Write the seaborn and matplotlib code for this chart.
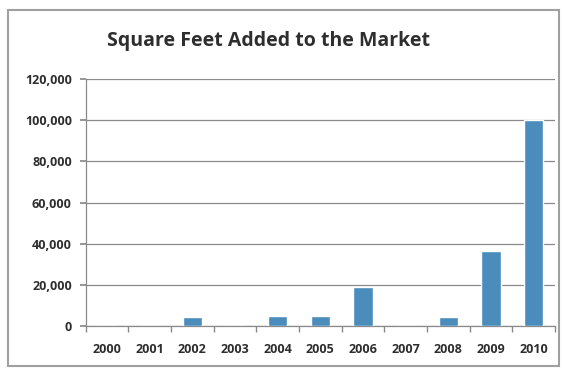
import matplotlib
matplotlib.use("Agg")
import matplotlib.pyplot as plt
import seaborn as sns
import pandas as pd
from matplotlib.ticker import FuncFormatter, FixedLocator
from matplotlib.patches import Rectangle

years = ["2000", "2001", "2002", "2003", "2004", "2005", "2006", "2007", "2008", "2009", "2010"]
square_feet = [0, 0, 4400, 0, 4900, 4900, 19000, 0, 4500, 36400, 100000]
title = "Square Feet Added to the Market"

sns.set_theme(style="white")
plt.rcParams['font.family'] = ['Open Sans', 'DejaVu Sans']

df = pd.DataFrame({"year": years, "sqft": square_feet})

fig = plt.figure(figsize=(5.64, 3.70), dpi=100)
ax = fig.add_axes([0.152, 0.119, 0.832, 0.667])

sns.barplot(data=df, x="year", y="sqft", color="#4a8dbd", saturation=1, width=0.45, ax=ax, zorder=3)

ax.set_ylim(0, 120000)
ax.set_yticks(range(0, 120001, 20000))
ax.yaxis.set_major_formatter(FuncFormatter(lambda v, p: f"{int(v):,}"))
ax.grid(axis="y", color="#8a8a8a", linewidth=0.9, zorder=0)
ax.set_xlabel("")
ax.set_ylabel("")
ax.set_xlim(-0.5, 10.5)

for s in ["top", "right"]:
    ax.spines[s].set_visible(False)
ax.spines["left"].set_color("#8a8a8a")
ax.spines["bottom"].set_color("#8a8a8a")
ax.spines["left"].set_linewidth(0.9)
ax.spines["bottom"].set_linewidth(0.9)

ax.tick_params(axis="x", length=0, labelsize=9, labelcolor="#2e2e2e", pad=12)
ax.tick_params(axis="y", length=4, left=True, color="#8a8a8a", labelsize=9, labelcolor="#2e2e2e", pad=6)
for lbl in ax.get_xticklabels() + ax.get_yticklabels():
    lbl.set_fontweight("bold")

# minor ticks between categories on x-axis
ax.xaxis.set_minor_locator(FixedLocator([i + 0.5 for i in range(-1, 11)]))
ax.tick_params(axis="x", which="minor", bottom=True, length=4, color="#8a8a8a", direction="out")

fig.text(0.476, 0.888, title, ha="center", va="center", fontsize=14, fontweight="bold", color="#2e2e2e")

fig.patches.append(Rectangle((0.014, 0.012), 0.978, 0.96, transform=fig.transFigure,
                             fill=False, edgecolor="#a0a0a0", linewidth=1.5))

fig.savefig("out.png", dpi=100, facecolor="white")
